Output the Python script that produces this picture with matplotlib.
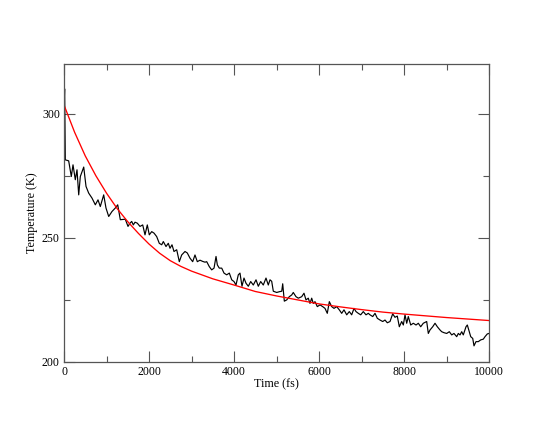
import matplotlib
matplotlib.use('Agg')
import matplotlib.pyplot as plt
from matplotlib.ticker import MultipleLocator

# temperatura da simulacao, tempo em fs
time_fs = [0, 15, 31, 110, 172, 212, 266, 306, 346, 384, 464, 518, 581, 659, 737, 800, 854,
           934, 988, 1052, 1129, 1207, 1264, 1325, 1442, 1506, 1553, 1593, 1631, 1671, 1725,
           1788, 1852, 1906, 1960, 2007, 2064, 2118, 2181, 2242, 2299, 2337, 2400, 2454, 2494,
           2541, 2588, 2652, 2713, 2769, 2847, 2901, 2965, 3028, 3082, 3137, 3200, 3264, 3318,
           3358, 3419, 3475, 3530, 3577, 3608, 3654, 3711, 3765, 3828, 3890, 3946, 4000, 4047,
           4101, 4141, 4188, 4235, 4283, 4337, 4393, 4454, 4518, 4572, 4628, 4689, 4753, 4807,
           4847, 4887, 4925, 5005, 5066, 5123, 5146, 5184, 5240, 5301, 5358, 5395, 5459, 5513,
           5593, 5647, 5694, 5748, 5788, 5828, 5866, 5906, 5960, 6024, 6087, 6141, 6195, 6243,
           6299, 6353, 6417, 6478, 6534, 6588, 6652, 6713, 6769, 6824, 6871, 6925, 6981, 7042,
           7106, 7160, 7200, 7264, 7318, 7372, 7435, 7499, 7553, 7607, 7671, 7734, 7788, 7842,
           7890, 7946, 7984, 8024, 8064, 8101, 8158, 8219, 8283, 8337, 8393, 8454, 8534, 8572,
           8612, 8676, 8730, 8784, 8847, 8887, 8941, 9005, 9066, 9123, 9176, 9240, 9278, 9318,
           9358, 9395, 9459, 9490, 9537, 9570, 9617, 9647, 9694, 9748, 9805, 9866, 9906, 9960,
           10000]
temp_K = [302, 310, 281.4, 281, 274.7, 279.4, 273.4, 277.4, 267.3, 274.7, 278.5, 270.7, 268,
          266, 263.3, 265.3, 262.6, 267.3, 262, 258.6, 260.6, 262, 263.3, 257.3, 257.5, 254.6,
          255.9, 256.6, 255.2, 256.3, 255.9, 254.6, 255.2, 251.2, 255.2, 251.2, 252.5, 251.9,
          250.5, 247.8, 247.2, 248.5, 246.5, 247.8, 245.8, 247.2, 244.5, 245.2, 240.4, 243.1,
          244.5, 243.9, 241.8, 240.4, 243.1, 240.4, 241, 240.5, 240.2, 240.4, 238.4, 237.1,
          237.8, 242.5, 239.1, 237.8, 237.8, 235.8, 235.1, 235.8, 233.1, 232.4, 231, 235.1,
          235.8, 230.5, 233.8, 231.7, 230.5, 232.4, 231, 233.1, 230.5, 232.4, 231, 233.8, 231,
          233.1, 232.5, 228.5, 228, 228.3, 228.5, 231.5, 224.5, 225, 226.3, 227, 228, 226.3,
          225.7, 226.3, 227.7, 225, 225.7, 223.6, 225.7, 223.6, 224.3, 222.3, 223, 222.3,
          221.6, 219.6, 224.3, 222.3, 221.6, 222.3, 221, 219.6, 221, 219, 220.3, 219, 221.6,
          220.3, 219.6, 219, 220.3, 219, 219.6, 219, 218.3, 219.6, 217.6, 216.9, 216.3, 216.9,
          215.8, 216.3, 219.4, 218, 218.5, 214.2, 216.3, 214.9, 219, 215.6, 218.3, 214.9, 215.6,
          214.9, 215.6, 214.2, 215.6, 216.3, 211.5, 212.9, 214.2, 215.6, 214.2, 212.9, 212.2,
          211.8, 211.5, 212.2, 210.9, 211.5, 210.2, 211.5, 210.9, 212.2, 210.9, 214.2, 214.9,
          212.2, 210.2, 209.5, 206.5, 208.2, 208.2, 208.9, 209.2, 210.2, 211.3, 211.5]

# curva ajustada (vermelha)
fit_t = [0, 250, 500, 750, 1000, 1250, 1500, 1750, 2000, 2250, 2500, 2750, 3000, 3500, 4000,
         4500, 5000, 5500, 6000, 6500, 7000, 7500, 8000, 8500, 9000, 9500, 10000]
fit_T = [303.5, 292.5, 283.0, 275.0, 268.0, 261.8, 256.5, 251.8, 247.5, 243.8, 240.8, 238.5,
         236.6, 233.5, 231.0, 228.4, 226.6, 225.0, 223.4, 222.2, 221.1, 220.1, 219.3, 218.6,
         217.9, 217.3, 216.7]

plt.rcParams['font.family'] = ['Liberation Serif', 'DejaVu Serif']

fig = plt.figure(figsize=(5.51, 4.26), dpi=100)
ax = fig.add_axes([64 / 551, (426 - 362) / 426, (489 - 64) / 551, (362 - 64) / 426])
ax.plot(time_fs, temp_K, color='black', lw=0.85)
ax.plot(fit_t, fit_T, color='#ff0000', lw=0.95)

ax.set_xlim(0, 10000); ax.set_ylim(200, 320)
ax.xaxis.set_major_locator(MultipleLocator(2000)); ax.xaxis.set_minor_locator(MultipleLocator(1000))
ax.yaxis.set_major_locator(MultipleLocator(50)); ax.yaxis.set_minor_locator(MultipleLocator(25))
ax.tick_params(which='both', direction='in', top=True, right=True, labelsize=8.5, width=0.8, color='#555555')
ax.tick_params(which='major', length=8, pad=3)
ax.tick_params(which='minor', length=4)
for s in ax.spines.values():
    s.set_linewidth(0.9); s.set_color('#555555')
ax.set_xlabel('Time (fs)', fontsize=8.7, labelpad=0)
ax.set_ylabel('Temperature (K)', fontsize=8.7, labelpad=3)

fig.savefig('out.png', dpi=100)
